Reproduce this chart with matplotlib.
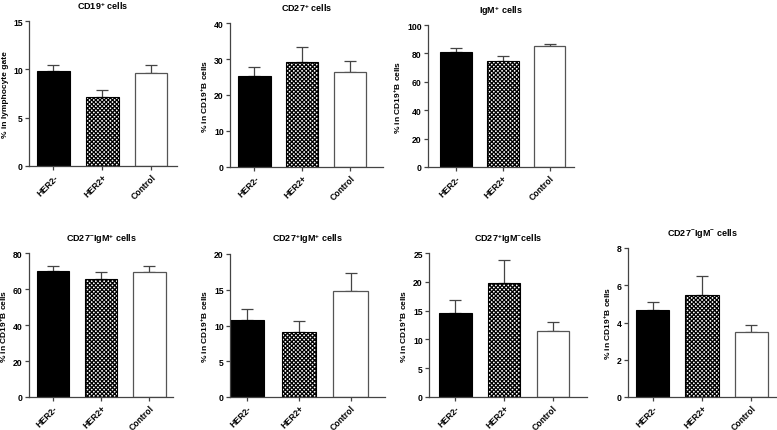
import matplotlib.pyplot as plt
import numpy as np

plt.rcParams.update({
    "font.family": "Liberation Sans",
    "font.weight": "bold",
    "font.size": 6.2,
    "mathtext.fontset": "custom",
    "mathtext.rm": "Liberation Sans:bold",
    "mathtext.default": "rm",
    "hatch.linewidth": 0.9,
    "axes.linewidth": 0.9,
})

groups = ["HER2-", "HER2+", "Control"]

titles = [
    "CD19$^{+}$ cells",
    "CD27$^{+}$ cells",
    "IgM$^{+}$ cells",
    "CD27$^{-}$IgM$^{+}$ cells",
    "CD27$^{+}$IgM$^{+}$ cells",
    "CD27$^{+}$IgM$^{-}$cells",
    "CD27$^{-}$IgM$^{-}$ cells",
]
ylabels = ["% in lymphocyte gate"] + ["% in CD19$^{+}$B cells"] * 6

cd19_mean = [9.8, 7.15, 9.65]
cd19_err = [0.7, 0.75, 0.8]
cd27_mean = [25.2, 29.1, 26.4]
cd27_err = [2.7, 4.1, 3.1]
igm_mean = [80.8, 74.8, 85.0]
igm_err = [2.8, 3.6, 1.9]
cd27neg_igmpos_mean = [69.8, 65.3, 69.5]
cd27neg_igmpos_err = [2.8, 4.4, 3.4]
cd27pos_igmpos_mean = [10.7, 9.05, 14.8]
cd27pos_igmpos_err = [1.55, 1.55, 2.5]
cd27pos_igmneg_mean = [14.5, 19.8, 11.5]
cd27pos_igmneg_err = [2.4, 3.9, 1.6]
cd27neg_igmneg_mean = [4.65, 5.45, 3.5]
cd27neg_igmneg_err = [0.45, 1.05, 0.35]

means = [cd19_mean, cd27_mean, igm_mean, cd27neg_igmpos_mean,
         cd27pos_igmpos_mean, cd27pos_igmneg_mean, cd27neg_igmneg_mean]
errs = [cd19_err, cd27_err, igm_err, cd27neg_igmpos_err,
        cd27pos_igmpos_err, cd27pos_igmneg_err, cd27neg_igmneg_err]
yticks = [
    [0, 5, 10, 15],
    [0, 10, 20, 30, 40],
    [0, 20, 40, 60, 80, 100],
    [0, 20, 40, 60, 80],
    [0, 5, 10, 15, 20],
    [0, 5, 10, 15, 20, 25],
    [0, 2, 4, 6, 8],
]

# axes boxes in pixels: left, right, top, bottom
W, H = 777, 431
boxes = [
    (29, 177, 22, 167),
    (230, 383, 24, 168),
    (428, 574, 26, 168),
    (29, 173, 254, 398),
    (230, 385, 255, 398),
    (429, 587, 254, 398),
    (628, 776, 249, 398),
]
xlims = [(-0.5, 2.53), (-0.51, 2.68), (-0.6, 2.52), (-0.5, 2.49),
         (-0.33, 2.66), (-0.54, 2.7), (-0.5, 2.5)]

fig = plt.figure(figsize=(W / 100, H / 100), dpi=100)
axis_color = "#444444"

for i in range(7):
    l, r, t, b = boxes[i]
    ax = fig.add_axes([l / W, 1 - b / H, (r - l) / W, (b - t) / H])
    x = np.arange(3)
    m = means[i]
    e = errs[i]

    ax.bar(x[0], m[0], width=0.67, color="black", edgecolor="black", linewidth=0.8, zorder=2)
    ax.bar(x[1], m[1], width=0.67, color="white", edgecolor="black", hatch="xxxxxxxx",
           linewidth=0.8, zorder=2)
    ax.bar(x[2], m[2], width=0.67, color="white", edgecolor="#555555", linewidth=0.9, zorder=2)
    ax.errorbar(x, m, yerr=[np.zeros(3), e], fmt="none", ecolor=axis_color,
                elinewidth=0.9, capsize=4, capthick=0.9, zorder=1)

    ax.set_xlim(*xlims[i])
    ax.set_ylim(0, yticks[i][-1])
    ax.set_yticks(yticks[i])
    ax.set_yticklabels([str(v) for v in yticks[i]], fontweight="bold")
    ax.set_xticks(x)
    ax.set_xticklabels(groups, rotation=45, ha="right", rotation_mode="anchor",
                       fontweight="bold")
    ax.tick_params(axis="both", length=3, width=0.9, color=axis_color, pad=1.5)
    for s in ["top", "right"]:
        ax.spines[s].set_visible(False)
    for s in ["left", "bottom"]:
        ax.spines[s].set_color(axis_color)
    ax.set_ylabel(ylabels[i], fontsize=6.0, fontweight="bold", labelpad=3)
    ax.set_title(titles[i], fontsize=6.5, fontweight="bold", pad=9)

fig.savefig("out.png", dpi=100)
